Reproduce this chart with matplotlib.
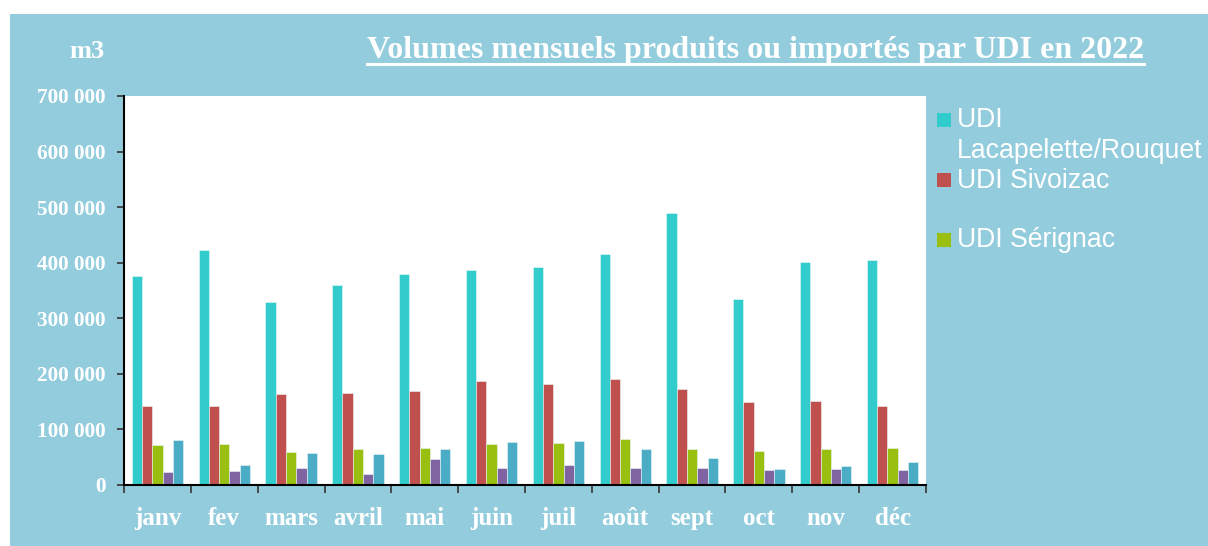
import matplotlib.pyplot as plt
import numpy as np
from matplotlib.patches import Rectangle
from matplotlib.lines import Line2D

months = ["janv", "fev", "mars", "avril", "mai", "juin",
          "juil", "août", "sept", "oct", "nov", "déc"]

lacapelette = [376000, 423000, 330000, 360000, 380000, 386000,
               392000, 416000, 490000, 335000, 401000, 405000]
sivoizac = [142000, 143000, 163000, 165000, 169000, 188000,
            181000, 191000, 172000, 149000, 151000, 143000]
serignac = [72500, 74000, 59000, 64000, 66000, 74000,
            76000, 82000, 65000, 62000, 64000, 67000]
udi_4 = [24000, 25000, 31000, 19000, 46000, 31000,
         36000, 30000, 30500, 27500, 28000, 27000]
udi_5 = [81000, 36000, 58000, 56000, 64000, 77000,
         79000, 65000, 48000, 29000, 35000, 41000]

series = [lacapelette, sivoizac, serignac, udi_4, udi_5]
colors = ["#33CCCC", "#C0504D", "#99BF10", "#8064A2", "#4BACC6"]
legend_labels = ["UDI", "Lacapelette/Rouquet", "UDI Sivoizac", "UDI Sérignac"]

W, H = 1208, 546
bg = "#93CDDD"

fig = plt.figure(figsize=(W / 100, H / 100), dpi=100, facecolor="white")
# blue frame behind everything
fig.patches.append(Rectangle((10 / W, 0), 1, (H - 14) / H, transform=fig.transFigure,
                             facecolor=bg, edgecolor="none", zorder=-10))

ax = fig.add_axes([124 / W, (H - 485) / H, (926 - 124) / W, (485 - 96) / H])
ax.set_facecolor("white")

x = np.arange(len(months))
w = 1 / 6.5
for i, (vals, c) in enumerate(zip(series, colors)):
    ax.bar(x + (i - 2) * w, vals, width=w, color=c,
           edgecolor="#EAF6F6", linewidth=0.4, zorder=2)

ax.set_xlim(-0.5, len(months) - 0.5)
ax.set_ylim(0, 700000)

yt = np.arange(0, 700001, 100000)
ax.set_yticks(yt)
ax.set_yticklabels([f"{int(v):,}".replace(",", " ") for v in yt],
                   fontfamily="Liberation Serif", fontweight="bold",
                   fontsize=15.3, color="white")
ax.tick_params(axis="y", length=5, width=1.2, color="#333333", pad=8.5)

ax.set_xticks(x)
ax.set_xticklabels(months, fontfamily="Liberation Serif", fontweight="bold",
                   fontsize=18, color="white")
ax.tick_params(axis="x", which="major", length=0, pad=16)
ax.set_xticks(np.arange(-0.5, len(months)), minor=True)
ax.tick_params(axis="x", which="minor", length=6, width=1.2, color="#333333")

for s in ["top", "right"]:
    ax.spines[s].set_visible(False)
for s in ["left", "bottom"]:
    ax.spines[s].set_color("black")
    ax.spines[s].set_linewidth(1.5)

# unit label and title
fig.text(86.5 / W, (H - 58) / H, "m3", fontfamily="Liberation Serif", fontweight="bold",
         fontsize=19, color="white", ha="center", va="baseline")
title = fig.text(755.5 / W, (H - 58) / H, "Volumes mensuels produits ou importés par UDI en 2022",
                 fontfamily="Liberation Serif", fontweight="bold", fontsize=23,
                 color="white", ha="center", va="baseline")
fig.canvas.draw()
bb = title.get_window_extent()
yl = (H - 63.5) / H
fig.add_artist(Line2D([bb.x0 / W, bb.x1 / W], [yl, yl], transform=fig.transFigure,
                      color="white", linewidth=2.2))

# legend (only three entries visible in the original)
leg_font = dict(fontfamily="Liberation Sans", fontsize=19.2, color="white", va="baseline")
fig.text(957 / W, (H - 127) / H, legend_labels[0], **leg_font)
fig.text(957 / W, (H - 158) / H, legend_labels[1], **leg_font)
fig.text(957 / W, (H - 188) / H, legend_labels[2], **leg_font)
fig.text(957 / W, (H - 247) / H, legend_labels[3], **leg_font)
for top, c in zip([112.7, 173.3, 232.7], colors[:3]):
    fig.patches.append(Rectangle((937 / W, (H - top - 14) / H), 14 / W, 14 / H,
                                 transform=fig.transFigure, facecolor=c, edgecolor="none"))

fig.savefig("out.png", dpi=100, facecolor="white")
